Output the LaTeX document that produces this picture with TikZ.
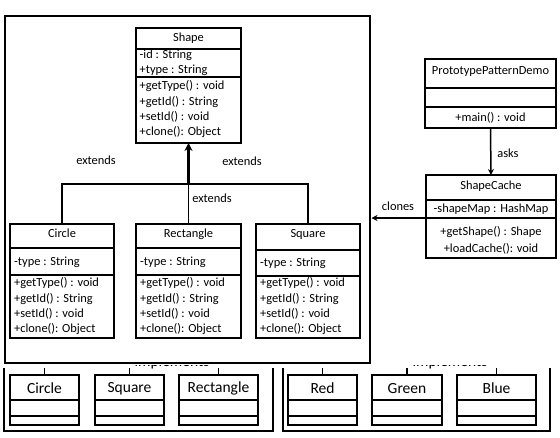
\documentclass[tikz,border=0pt]{standalone}
\usepackage{fontspec}
\setmainfont{Carlito}
\usetikzlibrary{arrows.meta,calc}
\begin{document}
\begin{tikzpicture}[x=1pt,y=-1pt,
  box/.style={draw,line width=1.4pt,anchor=north west,inner sep=0pt,outer sep=0pt},
  sep/.style={line width=1.4pt},
  frm/.style={line width=1.8pt},
  txt/.style={font=\fontsize{12.4}{14}\selectfont,inner sep=0pt,text height=8.5pt,text depth=2.7pt},
  ltxt/.style={txt,anchor=west},
  btxt/.style={font=\fontsize{15.5}{17}\selectfont,inner sep=0pt},
  conn/.style={line width=1.5pt},
  arr/.style={line width=1.5pt,-{Stealth[length=6pt,width=6pt]}},
  bigarr/.style={line width=2.8pt,-{Stealth[length=8pt,width=8pt]}}
]
\useasboundingbox (0,0) rectangle (560,437);

% main frame
\node[box,line width=1.8pt,minimum width=365pt,minimum height=347pt] (frame) at (5,16) {};

% Shape
\node[box,minimum width=105pt,minimum height=115pt] (shape) at (136,28) {};
\draw[sep] (shape.west |- 0,49) -- (shape.east |- 0,49);
\draw[sep] (shape.west |- 0,77) -- (shape.east |- 0,77);
\node[txt] (shapet) at (188.5,39) {Shape};
\node[ltxt] (sa1) at (139.5,56) {-id : String};
\node[ltxt] (sa2) at (139.5,71) {+type : String};
\node[ltxt] (sm1) at (139.5,87) {+getType() : void};
\node[ltxt] (sm2) at (139.5,103) {+getId() : String};
\node[ltxt] (sm3) at (139.5,118) {+setId() : void};
\node[ltxt] (sm4) at (139.5,133) {+clone(): Object};

% Circle
\node[box,minimum width=104pt,minimum height=114pt] (circle) at (10,224) {};
\draw[sep] (circle.west |- 0,248) -- (circle.east |- 0,248);
\draw[sep] (circle.west |- 0,275) -- (circle.east |- 0,275);
\node[txt] (ct) at (62,235) {Circle};
\node[ltxt] (ca) at (14,263) {-type : String};
\node[ltxt] (cm1) at (14,284) {+getType() : void};
\node[ltxt] (cm2) at (14,300) {+getId() : String};
\node[ltxt] (cm3) at (14,315) {+setId() : void};
\node[ltxt] (cm4) at (14,330) {+clone(): Object};

% Rectangle
\node[box,minimum width=105pt,minimum height=114pt] (rect) at (136,224) {};
\draw[sep] (rect.west |- 0,248) -- (rect.east |- 0,248);
\draw[sep] (rect.west |- 0,275) -- (rect.east |- 0,275);
\node[txt] (rt) at (188.5,235) {Rectangle};
\node[ltxt] (ra) at (140,263) {-type : String};
\node[ltxt] (rm1) at (140,284) {+getType() : void};
\node[ltxt] (rm2) at (140,300) {+getId() : String};
\node[ltxt] (rm3) at (140,315) {+setId() : void};
\node[ltxt] (rm4) at (140,330) {+clone(): Object};

% Square
\node[box,minimum width=104pt,minimum height=114pt] (square) at (256,224) {};
\draw[sep] (square.west |- 0,250) -- (square.east |- 0,250);
\draw[sep] (square.west |- 0,276) -- (square.east |- 0,276);
\node[txt] (qt) at (308,235) {Square};
\node[ltxt] (qa) at (260,264) {-type : String};
\node[ltxt] (qm1) at (260,284) {+getType() : void};
\node[ltxt] (qm2) at (260,300) {+getId() : String};
\node[ltxt] (qm3) at (260,315) {+setId() : void};
\node[ltxt] (qm4) at (260,330) {+clone(): Object};

% inheritance
\coordinate (j) at (188.5,184);
\draw[conn] (circle.north) |- (j);
\draw[conn] (square.north) |- (j);
\draw[conn] (rect.north) -- (j);
\draw[bigarr] (j) -- (shape.south);
\node[txt] (e1) at (96,162) {extends};
\node[txt] (e2) at (242,163) {extends};
\node[txt] (e3) at (212,200) {extends};

% PrototypePatternDemo
\node[box,minimum width=131pt,minimum height=69pt] (demo) at (425,59) {};
\draw[sep] (demo.west |- 0,88) -- (demo.east |- 0,88);
\draw[sep] (demo.west |- 0,107) -- (demo.east |- 0,107);
\node[txt] (dt) at (490.5,72) {PrototypePatternDemo};
\node[txt] (dm) at (490.5,119) {+main() : void};

% ShapeCache
\node[box,minimum width=130pt,minimum height=83pt] (cache) at (426,175) {};
\draw[sep] (cache.west |- 0,200) -- (cache.east |- 0,200);
\draw[sep] (cache.west |- 0,218) -- (cache.east |- 0,218);
\node[txt] (cht) at (491,187) {ShapeCache};
\node[txt] (cha) at (491,209.5) {-shapeMap : HashMap};
\node[txt] (chm1) at (491,233) {+getShape() : Shape};
\node[txt] (chm2) at (491,250) {+loadCache(): void};

\draw[arr] (demo.south) -- (cache.north);
\node[txt] (asks) at (508,155) {asks};

\coordinate (clstart) at (426,218);
\coordinate (clend) at (371.5,218);
\draw[arr] (clstart) -- (clend);
\node[txt] (clones) at (398,208) {clones};

% bottom panels
\draw[frm] (4,368) -- (4,431) -- (273,431) -- (273,368);
\draw[frm] (283,368) -- (283,431) -- (550,431) -- (550,368);
\coordinate (cut) at (0,368);

\foreach \n/\x/\w/\t in {bc/10/69/Circle, bs/95/69/Square, br/179/79/Rectangle, bre/288/69/Red, bg/372/70/Green, bb/457/79/Blue}{
  \node[box,minimum width=\w pt,minimum height=50pt] (\n) at (\x,375) {};
  \draw[sep] (\n.west |- 0,400) -- (\n.east |- 0,400);
  \draw[sep] (\n.west |- 0,416) -- (\n.east |- 0,416);
  \node[btxt] (\n t) at ($(\n.north)+(0,13.5)$) {\t};
  \draw[conn] (\n.north) -- (\n.north |- cut);
}

% clipped "implements" labels
\begin{scope}
  \clip (0,365.2) rectangle (560,369);
  \node[btxt,anchor=base] (impl1) at (172,366) {implements};
  \node[btxt,anchor=base] (impl2) at (450,366) {implements};
\end{scope}
\end{tikzpicture}
\end{document}
